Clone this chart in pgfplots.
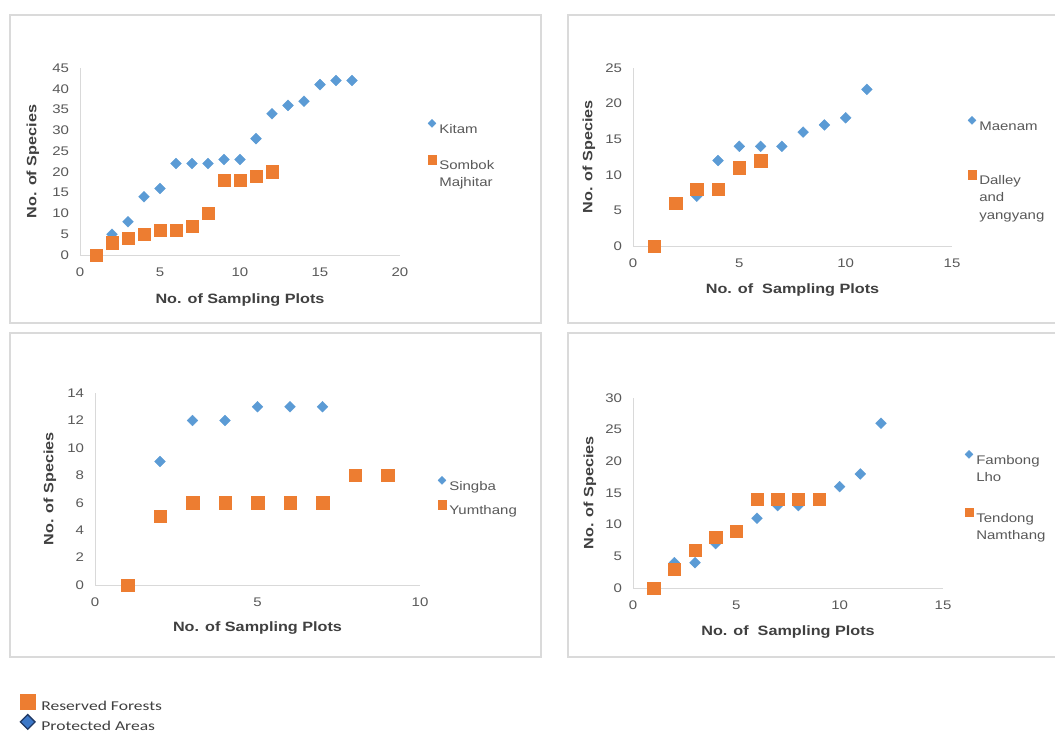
\documentclass[border=0pt]{standalone}
\usepackage{pgfplots}
\pgfplotsset{compat=1.18}
\usepackage{fontspec}
\setmainfont{Liberation Sans}[FakeStretch=1.2]
\newfontfamily\calfont{Carlito}[FakeStretch=1.3]
\definecolor{xblue}{HTML}{5B9BD5}
\definecolor{xorange}{HTML}{ED7D31}
\definecolor{ticktext}{HTML}{595959}
\definecolor{labtext}{HTML}{404040}
\definecolor{axline}{HTML}{D9D9D9}
\definecolor{frameg}{HTML}{DADADA}
\definecolor{legblue}{HTML}{3C78C8}
\definecolor{legnavy}{HTML}{1F3864}

\pgfplotsset{
  panel/.style={
    scale only axis, anchor=south west, clip=false,
    axis x line*=bottom, axis y line*=left,
    axis line style={axline, line width=0.8pt},
    major tick length=0pt,
    xmin=0, ymin=0,
    /pgf/number format/assume math mode=true,
    tick label style={font=\fontsize{12.5}{15}\selectfont, text=ticktext},
    xticklabel style={yshift=-9pt},
    yticklabel style={xshift=-7.5pt},
    label style={font=\bfseries\fontsize{13.5}{16}\selectfont, text=labtext},
    legend style={draw=none, fill=none, anchor=north west, inner sep=0pt, outer sep=0pt,
       nodes={inner sep=0pt, font=\fontsize{12.5}{17.5}\selectfont, text=ticktext}, column sep=3pt},
    legend cell align=left,
  },
  blueser/.style={only marks, mark=square*, mark options={rotate=45, fill=xblue, draw=xblue}, mark size=3.8pt,
    legend image code/.code={\draw[only marks, mark=square*, mark options={rotate=45, fill=xblue, draw=xblue}, mark size=2.8pt] plot coordinates {(4.3pt,4.5pt)};}},
  orgser/.style={only marks, mark=square*, mark options={fill=xorange, draw=xorange}, mark size=6.2pt,
    legend image code/.code={\draw[only marks, mark=square*, mark options={fill=xorange, draw=xorange}, mark size=4.3pt] plot coordinates {(4.3pt,4.5pt)};}},
}
\newcommand{\legtxt}[1]{\begin{tabular}[t]{@{}l@{}}#1\end{tabular}}

\begin{document}
\begin{tikzpicture}
\useasboundingbox (0,0) rectangle (1055pt,735pt);
\fill[white] (0,0) rectangle (1055pt,735pt);
% panel frames
\draw[frameg, line width=1.2pt] (10pt,412pt) rectangle (541pt,720pt);
\draw[frameg, line width=1.2pt] (568pt,412pt) rectangle (1070pt,720pt);
\draw[frameg, line width=1.2pt] (10pt,78pt) rectangle (541pt,402pt);
\draw[frameg, line width=1.2pt] (568pt,78pt) rectangle (1070pt,402pt);

% Panel 1
\begin{axis}[panel, at={(80pt,480pt)}, width=320pt, height=187pt,
  xmax=20, ymax=45, xtick={0,5,...,20}, ytick={0,5,...,45},
  xlabel={No. of Sampling Plots}, ylabel={No. of Species},
  xlabel style={at={([yshift=-45pt]axis description cs:0.5,0)}, anchor=center},
  ylabel style={at={([xshift=-47pt]axis description cs:0,0.5)}, anchor=center},
  legend style={at={([xshift=347.7pt,yshift=135.5pt]axis description cs:0,0)}, row sep=20.5pt}]
\addplot[blueser] coordinates {(1,0)(2,5)(3,8)(4,14)(5,16)(6,22)(7,22)(8,22)(9,23)(10,23)(11,28)(12,34)(13,36)(14,37)(15,41)(16,42)(17,42)};
\addlegendentry{\legtxt{Kitam}}
\addplot[orgser] coordinates {(1,0)(2,3)(3,4)(4,5)(5,6)(6,6)(7,7)(8,10)(9,18)(10,18)(11,19)(12,20)};
\addlegendentry{\legtxt{Sombok\\Majhitar}}
\end{axis}

% Panel 2
\begin{axis}[panel, at={(633pt,489pt)}, width=319pt, height=178pt,
  xmax=15, ymax=25, xtick={0,5,...,15}, ytick={0,5,...,25},
  xlabel={No. of\ \ Sampling Plots}, ylabel={No. of Species},
  xlabel style={at={([yshift=-44pt]axis description cs:0.5,0)}, anchor=center},
  ylabel style={at={([xshift=-44pt]axis description cs:0,0.5)}, anchor=center},
  legend style={at={([xshift=334.7pt,yshift=129.5pt]axis description cs:0,0)}, row sep=38.5pt}]
\addplot[blueser] coordinates {(1,0)(2,6)(3,7)(4,12)(5,14)(6,14)(7,14)(8,16)(9,17)(10,18)(11,22)};
\addlegendentry{\legtxt{Maenam}}
\addplot[orgser] coordinates {(1,0)(2,6)(3,8)(4,8)(5,11)(6,12)};
\addlegendentry{\legtxt{Dalley\\and\\yangyang}}
\end{axis}

% Panel 3
\begin{axis}[panel, at={(95pt,150pt)}, width=325pt, height=192pt,
  xmax=10, ymax=14, xtick={0,5,10}, ytick={0,2,...,14},
  xlabel={No. of Sampling Plots}, ylabel={No. of Species},
  xlabel style={at={([yshift=-43pt]axis description cs:0.5,0)}, anchor=center},
  ylabel style={at={([xshift=-45pt]axis description cs:0,0.5)}, anchor=center},
  legend style={at={([xshift=342.7pt,yshift=108.5pt]axis description cs:0,0)}, row sep=8.5pt}]
\addplot[blueser] coordinates {(1,0)(2,9)(3,12)(4,12)(5,13)(6,13)(7,13)};
\addlegendentry{\legtxt{Singba}}
\addplot[orgser] coordinates {(1,0)(2,5)(3,6)(4,6)(5,6)(6,6)(7,6)(8,8)(9,8)};
\addlegendentry{\legtxt{Yumthang}}
\end{axis}

% Panel 4
\begin{axis}[panel, at={(633pt,147pt)}, width=310pt, height=190pt,
  xmax=15, ymax=30, xtick={0,5,...,15}, ytick={0,5,...,30},
  xlabel={No. of\ \ Sampling Plots}, ylabel={No. of Species},
  xlabel style={at={([yshift=-44pt]axis description cs:0.5,0)}, anchor=center},
  ylabel style={at={([xshift=-43pt]axis description cs:0,0.5)}, anchor=center},
  legend style={at={([xshift=331.7pt,yshift=137.5pt]axis description cs:0,0)}, row sep=42pt}]
\addplot[blueser] coordinates {(1,0)(2,4)(3,4)(4,7)(5,9)(6,11)(7,13)(8,13)(9,14)(10,16)(11,18)(12,26)};
\addlegendentry{\legtxt{Fambong\\Lho}}
\addplot[orgser] coordinates {(1,0)(2,3)(3,6)(4,8)(5,9)(6,14)(7,14)(8,14)(9,14)};
\addlegendentry{\legtxt{Tendong\\Namthang}}
\end{axis}

% Bottom legend
\begin{axis}[at={(0pt,0pt)}, anchor=south west, scale only axis, width=100pt, height=50pt,
  hide axis, xmin=0, xmax=1, ymin=0, ymax=1,
  legend cell align=left,
  legend style={draw=none, fill=none, anchor=north west, inner sep=0pt, outer sep=0pt,
    at={([xshift=20.2pt,yshift=40.6pt]axis description cs:0,0)}, row sep=0.5pt, column sep=6.2pt,
    nodes={inner sep=0pt, text height=12pt, text depth=3.5pt, font=\calfont\fontsize{13.5}{16}\selectfont, text=black!75}}]
\addlegendimage{legend image code/.code={\draw[only marks, mark=square*, mark options={fill=xorange, draw=xorange}, mark size=7.5pt] plot coordinates {(7.5pt,4.4pt)};}}
\addlegendentry{Reserved Forests}
\addlegendimage{legend image code/.code={\draw[only marks, mark=square*, mark options={rotate=45, fill=legblue, draw=legnavy, line width=1.3pt}, mark size=5.2pt] plot coordinates {(7.5pt,4.4pt)};}}
\addlegendentry{Protected Areas}
\end{axis}
\end{tikzpicture}
\end{document}
